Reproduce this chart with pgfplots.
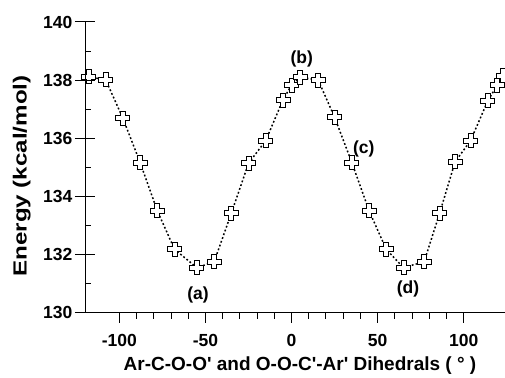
\documentclass[border=0pt]{standalone}
\usepackage{fontspec}
\setmainfont{Liberation Sans}
\usepackage{graphicx}
\usepackage{pgfplots}
\pgfplotsset{compat=1.18}
\pgfdeclareplotmark{fatplus}{%
  \pgfpathmoveto{\pgfqpoint{-2.5pt}{7pt}}%
  \pgfpathlineto{\pgfqpoint{2.5pt}{7pt}}%
  \pgfpathlineto{\pgfqpoint{2.5pt}{2.5pt}}%
  \pgfpathlineto{\pgfqpoint{7pt}{2.5pt}}%
  \pgfpathlineto{\pgfqpoint{7pt}{-2.5pt}}%
  \pgfpathlineto{\pgfqpoint{2.5pt}{-2.5pt}}%
  \pgfpathlineto{\pgfqpoint{2.5pt}{-7pt}}%
  \pgfpathlineto{\pgfqpoint{-2.5pt}{-7pt}}%
  \pgfpathlineto{\pgfqpoint{-2.5pt}{-2.5pt}}%
  \pgfpathlineto{\pgfqpoint{-7pt}{-2.5pt}}%
  \pgfpathlineto{\pgfqpoint{-7pt}{2.5pt}}%
  \pgfpathlineto{\pgfqpoint{-2.5pt}{2.5pt}}%
  \pgfpathclose
  \pgfusepathqfillstroke}
\pgfplotstableread{
x y
-118 138.12
-108 138.01
-98 136.69
-88 135.17
-78 133.51
-68 132.18
-55 131.55
-45 131.75
-35 133.42
-25 135.14
-15 135.92
-5 137.32
0 137.83
5 138.10
15.5 138.00
25 136.72
35 135.17
45 133.51
55 132.18
65 131.55
77 131.75
86 133.42
95 135.19
104 135.92
114 137.29
119.5 137.83
123 138.15
}\energy
\begin{document}
\begin{tikzpicture}
\pgfplotsset{
  common/.style={
    scale only axis, width=420pt, height=290.7pt,
    xmin=-120, xmax=124, ymin=130, ymax=140,
    at={(0,0)}, anchor=south west,
    axis line style={-, line width=1pt},
    tick style={line width=1pt, black},
    tick label style={font=\fontsize{17.5}{20}\selectfont\bfseries},
    /pgf/number format/assume math mode=true,
  }
}
\begin{axis}[common, name=ax,
  axis x line*=bottom, axis y line*=left,
  tick align=outside, major tick length=10pt, minor tick length=6pt,
  xtick={-100,-50,0,50,100}, minor x tick num=4,
  ytick={130,132,134,136,138,140}, minor y tick num=0,
  xticklabel style={anchor=north, inner sep=0pt, yshift=-11pt},
  yticklabel style={anchor=east, inner sep=0pt, xshift=-2.5pt},
]
\addplot[black, line width=1.5pt, dash pattern=on 1.8pt off 2.2pt,
  mark=fatplus, mark options={solid, fill=white, draw=black, line width=0.8pt}]
  table[x=x, y=y] {\energy};
\end{axis}
\begin{axis}[common, hide x axis, axis y line*=left,
  tick align=inside, major tick length=10pt, minor tick length=6pt,
  ytick={130,132,134,136,138,140}, minor y tick num=1, yticklabels={},
]
\end{axis}
\begin{scope}[font=\fontsize{17.5}{20}\selectfont\bfseries]
\node at ([shift={(113pt,18.2pt)}]ax.south west) {(a)};
\node at ([shift={(216.7pt,254.2pt)}]ax.south west) {(b)};
\node at ([shift={(278.7pt,163.7pt)}]ax.south west) {(c)};
\node at ([shift={(323pt,23.7pt)}]ax.south west) {(d)};
\end{scope}
\node[anchor=base, font=\fontsize{19}{22}\selectfont\bfseries] at ([shift={(215pt,-57.3pt)}]ax.south west) {Ar-C-O-O\textquotesingle{} and O-O-C\textquotesingle-Ar\textquotesingle{} Dihedrals ( ° )};
\node[rotate=90, anchor=base, font=\fontsize{19}{22}\selectfont\bfseries] at ([shift={(-58.3pt,136.7pt)}]ax.south west) {\scalebox{1.27}[1]{Energy (kcal/mol)}};
\pgfresetboundingbox
\path[use as bounding box] ([shift={(-85pt,-64.3pt)}]ax.south west) rectangle ([shift={(0pt,22pt)}]ax.north east);
\end{tikzpicture}
\end{document}
